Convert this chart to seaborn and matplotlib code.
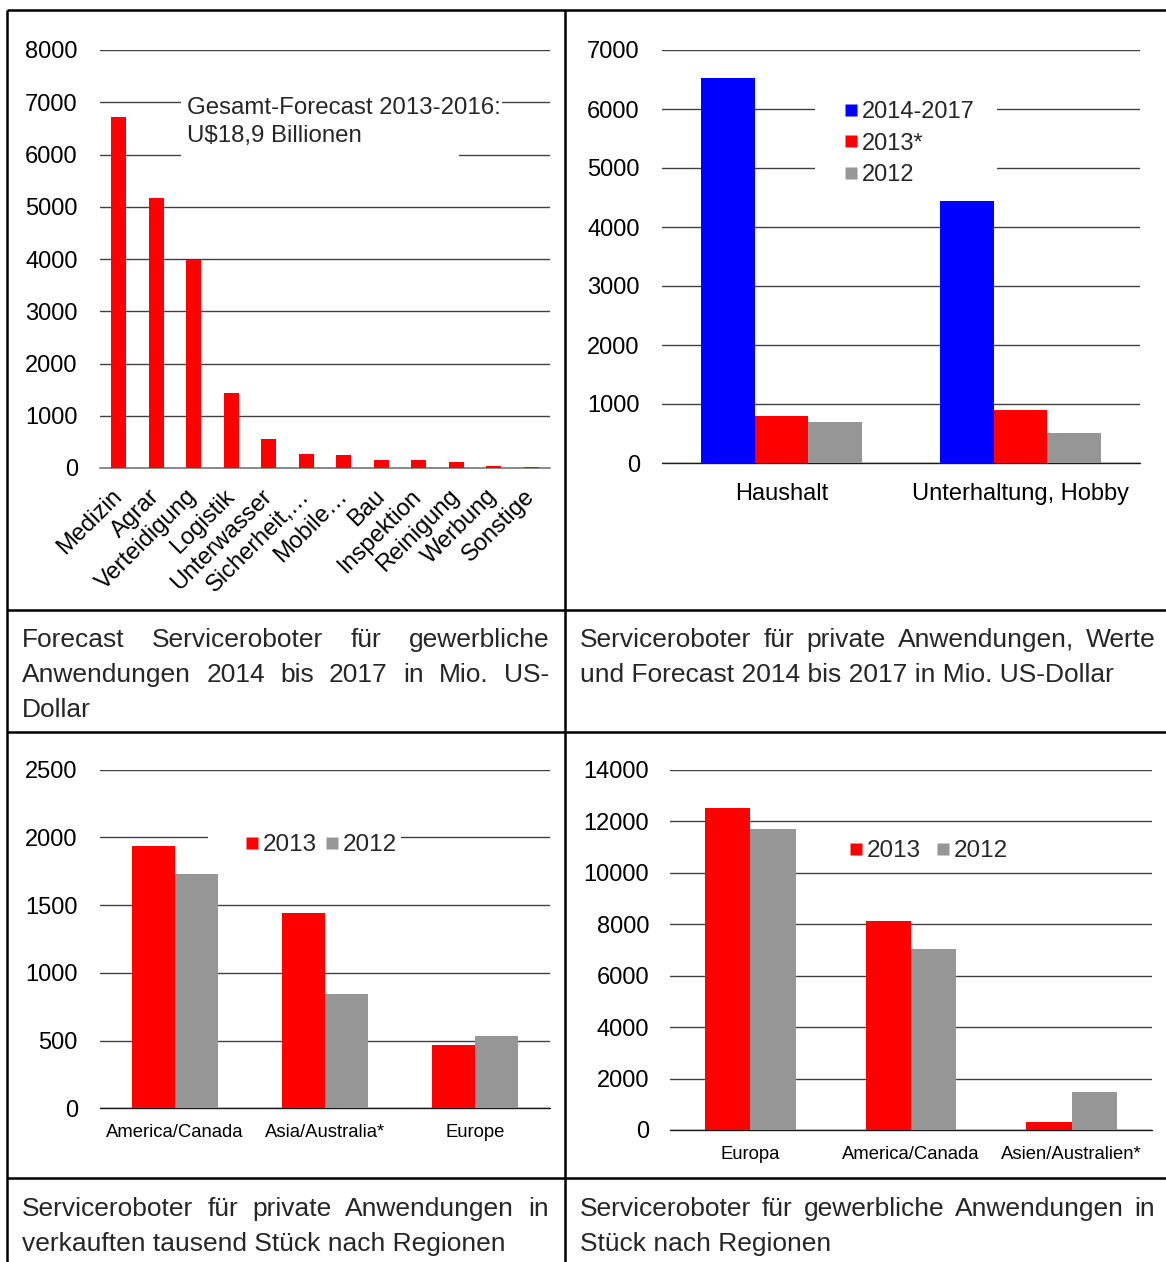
import matplotlib
matplotlib.use("Agg")
import matplotlib.pyplot as plt
import seaborn as sns
import pandas as pd
from matplotlib.lines import Line2D
from matplotlib.patches import Rectangle

# ---------------- data ----------------
segments = ["Medizin", "Agrar", "Verteidigung", "Logistik", "Unterwasser",
            "Sicherheit,…", "Mobile…", "Bau", "Inspektion", "Reinigung",
            "Werbung", "Sonstige"]
segment_values = [6720, 5170, 3990, 1430, 555, 268, 249, 160, 160, 115, 45, 12]

private_apps = ["Haushalt", "Unterhaltung, Hobby"]
private_series = ["2014-2017", "2013*", "2012"]
private_2014_2017 = [6530, 4440]
private_2013 = [790, 900]
private_2012 = [690, 515]

units_regions = ["America/Canada", "Asia/Australia*", "Europe"]
units_years = ["2013", "2012"]
units_2013 = [1938, 1439, 469]
units_2012 = [1727, 843, 536]

prof_regions = ["Europa", "America/Canada", "Asien/Australien*"]
prof_years = ["2013", "2012"]
prof_2013 = [12520, 8120, 311]
prof_2012 = [11706, 7020, 1476]

RED, BLUE, GREY = "#ff0000", "#0000ff", "#969696"

sns.set_theme(style="white")
plt.rcParams["font.family"] = ["Liberation Sans", "DejaVu Sans"]

W, H = 1166, 1262
fig = plt.figure(figsize=(W / 100, H / 100), dpi=100)

# full-page layer in pixel units for the table frame and captions
frame = fig.add_axes([0, 0, 1, 1])
frame.set_xlim(0, W)
frame.set_ylim(H, 0)
frame.axis("off")

BLW = 1.8
for y in (10, 610, 732, 1178):
    frame.plot([7, W], [y, y], color="black", lw=BLW, solid_capstyle="butt")
for x in (7, 565):
    frame.plot([x, x], [10, H], color="black", lw=BLW, solid_capstyle="butt")

TICK_FS = 17
SMALL_FS = 13.3
CAP_FS = 19
BAR_KW = dict(saturation=1, linewidth=0, edgecolor="none")


def chart_axes(x0, y0, x1, y1):
    return fig.add_axes([x0 / W, 1 - y1 / H, (x1 - x0) / W, (y1 - y0) / H])


def style(ax, ymax, step, pad, base_color="#1a1a1a", base_lw=1.0):
    ax.set_ylim(0, ymax)
    ax.set_yticks(range(0, ymax + 1, step))
    ax.yaxis.grid(True, color="#404040", lw=1.0)
    ax.xaxis.grid(False)
    ax.set_axisbelow(True)
    for s in ax.spines.values():
        s.set_visible(False)
    ax.tick_params(axis="both", length=0)
    ax.tick_params(axis="y", labelsize=TICK_FS, pad=pad, labelcolor="black")
    ax.set_xlabel("")
    ax.set_ylabel("")
    ax.patch.set_alpha(0)
    ax.axhline(0, color=base_color, lw=base_lw, zorder=0.6, clip_on=False)


def square_handles(colors):
    return [Line2D([], [], marker="s", linestyle="none", markersize=9,
                   markerfacecolor=c, markeredgecolor="none") for c in colors]


# ---------------- chart 1: segments ----------------
ax1 = chart_axes(100, 50, 550, 468)
sns.barplot(x=segments, y=segment_values, color=RED, width=0.41, ax=ax1,
            **BAR_KW)
style(ax1, 8000, 1000, 16, base_color="#8a8a8a", base_lw=1.4)
ax1.tick_params(axis="x", labelsize=TICK_FS, pad=18, labelcolor="black")
for lab in ax1.get_xticklabels():
    lab.set_rotation(45)
    lab.set_ha("right")
    lab.set_va("center")
    lab.set_rotation_mode("anchor")

ax1.add_patch(Rectangle((181, 100), 278, 60, transform=frame.transData,
                        facecolor="white", edgecolor="none", zorder=3))
ax1.text(187, 108, "Gesamt-Forecast 2013-2016:", transform=frame.transData,
         fontsize=17.3, va="center", ha="left", zorder=5,
         bbox=dict(facecolor="white", edgecolor="none", pad=1))
ax1.text(187, 136, "U\\$18,9 Billionen", transform=frame.transData,
         fontsize=17.3, va="center", ha="left", zorder=5)

# ---------------- chart 2: private applications ----------------
ax2 = chart_axes(662, 50, 1140, 463)
df2 = pd.DataFrame({
    "Anwendung": private_apps * 3,
    "Reihe": [s for s in private_series for _ in private_apps],
    "Wert": private_2014_2017 + private_2013 + private_2012,
})
sns.barplot(data=df2, x="Anwendung", y="Wert", hue="Reihe",
            hue_order=private_series, palette=[BLUE, RED, GREY],
            width=0.67, ax=ax2, legend=False, **BAR_KW)
style(ax2, 7000, 1000, 16)
ax2.tick_params(axis="x", labelsize=TICK_FS, pad=14.5, labelcolor="black")
ax2.add_patch(Rectangle((815, 94), 182, 98, transform=frame.transData,
                        facecolor="white", edgecolor="none", zorder=3))
leg2 = ax2.legend(square_handles([BLUE, RED, GREY]), private_series,
                  loc="upper left", bbox_to_anchor=(844, 101),
                  bbox_transform=frame.transData, frameon=False,
                  borderpad=0, borderaxespad=0, handlelength=0.6,
                  handletextpad=0.15, labelspacing=0.41, fontsize=TICK_FS)
leg2.set_zorder(6)

# ---------------- chart 3: private units by region ----------------
ax3 = chart_axes(100, 769.7, 550, 1108.3)
df3 = pd.DataFrame({
    "Region": units_regions * 2,
    "Jahr": [y for y in units_years for _ in units_regions],
    "Wert": units_2013 + units_2012,
})
sns.barplot(data=df3, x="Region", y="Wert", hue="Jahr", hue_order=units_years,
            palette=[RED, GREY], width=0.573, ax=ax3, legend=False, **BAR_KW)
style(ax3, 2500, 500, 16)
ax3.tick_params(axis="x", labelsize=SMALL_FS, pad=11.5, labelcolor="black")
ax3.add_patch(Rectangle((208, 824), 193, 38, transform=frame.transData,
                        facecolor="white", edgecolor="none", zorder=3))
leg3 = ax3.legend(square_handles([RED, GREY]), units_years, ncol=2,
                  loc="center left", bbox_to_anchor=(245, 845),
                  bbox_transform=frame.transData, frameon=False,
                  borderpad=0, borderaxespad=0, handlelength=0.6,
                  handletextpad=0.15, columnspacing=0.3, fontsize=17.5)
leg3.set_zorder(6)

# ---------------- chart 4: professional units by region ----------------
ax4 = chart_axes(670, 769.7, 1152, 1130)
df4 = pd.DataFrame({
    "Region": prof_regions * 2,
    "Jahr": [y for y in prof_years for _ in prof_regions],
    "Wert": prof_2013 + prof_2012,
})
sns.barplot(data=df4, x="Region", y="Wert", hue="Jahr", hue_order=prof_years,
            palette=[RED, GREY], width=0.566, ax=ax4, legend=False, **BAR_KW)
style(ax4, 14000, 2000, 15)
ax4.tick_params(axis="x", labelsize=SMALL_FS, pad=11.5, labelcolor="black")
leg4 = ax4.legend(square_handles([RED, GREY]), prof_years, ncol=2,
                  loc="center left", bbox_to_anchor=(849, 851),
                  bbox_transform=frame.transData, frameon=False,
                  borderpad=0, borderaxespad=0, handlelength=0.6,
                  handletextpad=0.15, columnspacing=0.6, fontsize=17.5)
leg4.set_zorder(6)

# ---------------- captions (justified like the source table) ----------------
renderer = fig.canvas.get_renderer()


def caption(lines, x0, x1, y_first, dy, justify):
    for i, line in enumerate(lines):
        y = y_first + i * dy
        words = line.split(" ")
        if not justify[i] or len(words) == 1:
            frame.text(x0, y, line, fontsize=CAP_FS, va="center", ha="left")
            continue
        texts = [frame.text(0, y, w, fontsize=CAP_FS, va="center", ha="left")
                 for w in words]
        widths = [t.get_window_extent(renderer).width for t in texts]
        gap = (x1 - x0 - sum(widths)) / (len(words) - 1)
        x = x0
        for t, w in zip(texts, widths):
            t.set_x(x)
            x += w + gap


caption(["Forecast Serviceroboter für gewerbliche",
         "Anwendungen 2014 bis 2017 in Mio. US-",
         "Dollar"], 22, 549, 640, 35, [True, True, False])
caption(["Serviceroboter für private Anwendungen, Werte",
         "und Forecast 2014 bis 2017 in Mio. US-Dollar"],
        580, 1156, 640, 35, [True, False])
caption(["Serviceroboter für private Anwendungen in",
         "verkauften tausend Stück nach Regionen"],
        22, 549, 1209, 35, [True, False])
caption(["Serviceroboter für gewerbliche Anwendungen in",
         "Stück nach Regionen"],
        580, 1155, 1209, 35, [True, False])

fig.savefig("out.png", dpi=100)
